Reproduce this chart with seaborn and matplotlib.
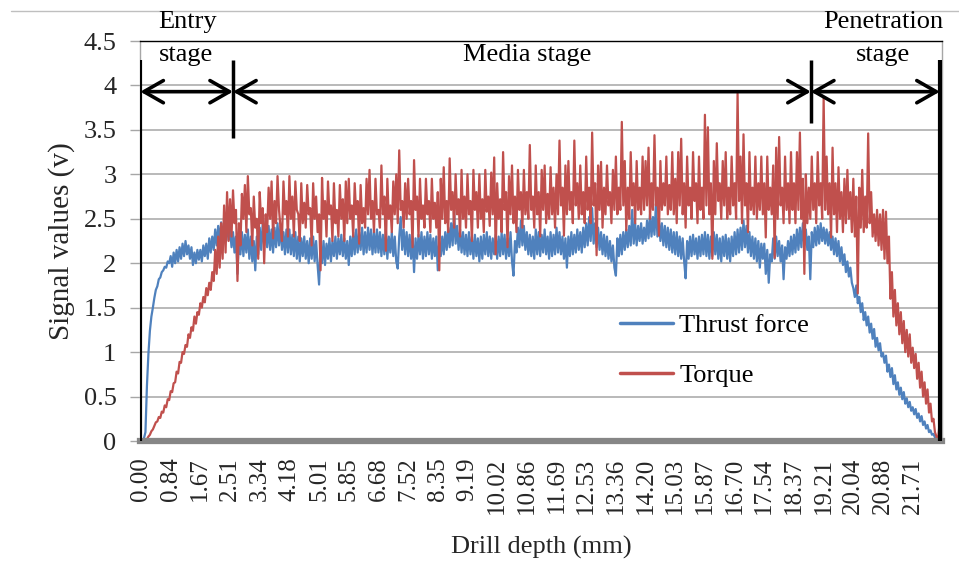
import numpy as np
import pandas as pd
import matplotlib
matplotlib.use("Agg")
import matplotlib.pyplot as plt
from matplotlib.lines import Line2D
import seaborn as sns

# Sampling interval of the drilling record (mm per sample); 20 samples per tick interval
STEP = 0.04176

thrust_force = [
    0.02, 0.01, 0.03, 0.10, 0.62, 0.98, 1.24, 1.40, 1.50, 1.61, 1.70, 1.74, 1.82, 1.84, 1.90, 1.92, 1.96, 1.95, 2.02, 2.00,
    2.08, 1.96, 2.12, 2.00, 2.15, 2.02, 2.18, 2.05, 2.22, 2.08, 2.25, 2.10, 2.20, 2.05, 2.18, 1.98, 2.12, 2.00, 2.15, 2.04,
    2.15, 2.02, 2.20, 2.08, 2.22, 2.05, 2.28, 2.12, 2.30, 2.15, 2.38, 2.20, 2.42, 2.25, 2.46, 2.28, 2.40, 2.24, 2.45, 2.26,
    2.38, 2.18, 2.35, 2.12, 2.30, 1.88, 2.28, 2.10, 2.35, 2.08, 2.32, 2.12, 2.38, 2.05, 2.30, 2.02, 2.25, 1.92, 2.30, 2.10,
    2.40, 2.15, 2.45, 2.20, 2.48, 2.18, 2.42, 2.15, 2.38, 2.12, 2.40, 2.18, 2.45, 2.20, 2.42, 2.15, 2.35, 2.10, 2.38, 2.12,
    2.38, 2.10, 2.32, 2.08, 2.35, 2.05, 2.30, 2.02, 2.28, 2.08, 2.30, 2.05, 2.25, 2.00, 2.28, 2.05, 2.30, 2.02, 2.25, 1.98,
    1.76, 2.20, 2.00, 2.25, 1.98, 2.22, 2.05, 2.28, 2.02, 2.25, 2.08, 2.30, 2.05, 2.28, 2.10, 2.32, 2.08, 2.28, 2.05, 2.25,
    1.98, 2.30, 2.08, 2.35, 2.10, 2.38, 2.12, 2.35, 2.15, 2.40, 2.10, 2.35, 2.12, 2.40, 2.15, 2.38, 2.10, 2.35, 2.12, 2.38,
    2.12, 2.35, 2.08, 2.32, 2.10, 2.38, 2.05, 2.30, 2.12, 2.35, 2.08, 2.30, 2.02, 1.94, 2.30, 2.52, 2.15, 2.38, 2.10, 2.35,
    2.08, 2.32, 2.05, 2.30, 1.90, 2.28, 2.05, 2.32, 2.10, 2.35, 2.05, 2.30, 2.08, 2.35, 2.10, 2.32, 2.05, 2.28, 2.08, 2.30,
    1.92, 2.25, 2.08, 2.30, 2.10, 2.35, 2.15, 2.40, 2.18, 2.45, 2.20, 2.58, 2.22, 2.42, 2.15, 2.38, 2.12, 2.35, 2.10, 2.32,
    2.08, 2.35, 2.10, 2.30, 2.05, 2.32, 2.08, 2.28, 2.02, 2.30, 2.05, 2.32, 2.10, 2.35, 2.08, 2.30, 2.05, 2.28, 2.10, 2.32,
    2.05, 2.30, 2.08, 2.35, 2.10, 2.32, 2.05, 2.28, 2.08, 2.35, 2.02, 1.86, 2.25, 2.12, 2.40, 2.18, 2.48, 2.20, 2.42, 2.15,
    2.35, 2.10, 2.32, 2.08, 2.30, 2.05, 2.38, 2.10, 2.35, 2.08, 2.32, 2.12, 2.38, 2.10, 2.30, 2.05, 2.35, 2.08, 2.32, 2.10,
    2.40, 2.12, 2.35, 2.10, 2.30, 2.05, 2.28, 1.95, 2.30, 2.08, 2.35, 2.10, 2.32, 2.12, 2.38, 2.15, 2.35, 2.12, 2.40, 2.18,
    2.45, 2.20, 2.52, 2.25, 2.62, 2.22, 2.45, 2.18, 2.40, 2.15, 2.35, 2.10, 2.32, 2.08, 2.30, 2.05, 2.25, 2.02, 2.20, 1.95,
    1.86, 2.28, 2.08, 2.32, 2.10, 2.35, 2.15, 2.38, 2.18, 2.42, 2.20, 2.60, 2.22, 2.45, 2.20, 2.42, 2.25, 2.45, 2.22, 2.40,
    2.25, 2.48, 2.28, 2.55, 2.30, 2.52, 2.32, 2.67, 2.30, 2.50, 2.25, 2.45, 2.20, 2.42, 2.18, 2.40, 2.15, 2.38, 2.12, 2.35,
    2.10, 2.35, 2.08, 2.30, 2.05, 2.28, 2.02, 1.83, 2.25, 2.05, 2.30, 2.08, 2.32, 2.10, 2.28, 2.05, 2.30, 2.08, 2.32, 2.10,
    2.35, 2.08, 2.32, 2.05, 2.30, 2.08, 2.35, 2.10, 2.32, 2.05, 2.28, 2.02, 2.30, 2.08, 2.32, 2.05, 2.28, 2.02, 2.30, 2.08,
    2.35, 2.10, 2.38, 2.12, 2.40, 2.15, 2.48, 2.18, 2.42, 2.12, 2.35, 2.08, 2.30, 2.05, 2.28, 2.02, 2.25, 1.95, 2.22, 2.05,
    2.22, 1.88, 2.15, 1.78, 2.10, 2.02, 2.28, 2.05, 2.30, 2.08, 2.25, 2.02, 2.20, 1.82, 2.18, 2.05, 2.25, 2.08, 2.30, 2.10,
    2.32, 2.12, 2.38, 2.15, 2.40, 2.18, 2.45, 2.20, 2.38, 2.15, 2.30, 1.82, 2.35, 2.18, 2.40, 2.20, 2.42, 2.22, 2.45, 2.25,
    2.40, 2.22, 2.38, 2.20, 2.35, 2.15, 2.30, 2.10, 2.28, 2.08, 2.25, 2.02, 2.18, 1.98, 2.10, 1.90, 2.02, 1.85, 1.95, 1.78,
    1.72, 1.62, 1.75, 1.55, 1.62, 1.45, 1.55, 1.36, 1.45, 1.30, 1.40, 1.22, 1.32, 1.15, 1.26, 1.06, 1.16, 1.02, 1.10, 0.95,
    0.99, 0.88, 0.96, 0.78, 0.86, 0.72, 0.82, 0.64, 0.74, 0.58, 0.66, 0.52, 0.60, 0.47, 0.55, 0.42, 0.48, 0.38, 0.44, 0.34,
    0.38, 0.30, 0.36, 0.26, 0.31, 0.22, 0.28, 0.18, 0.22, 0.14, 0.18, 0.10, 0.12, 0.07, 0.08, 0.04, 0.03, 0.02, 0.02, 0.02,
]

torque = [
    0.00, 0.00, 0.01, 0.01, 0.02, 0.05, 0.07, 0.11, 0.13, 0.17, 0.21, 0.22, 0.27, 0.26, 0.33, 0.32, 0.40, 0.38, 0.47, 0.46,
    0.56, 0.55, 0.65, 0.66, 0.78, 0.76, 0.89, 0.88, 1.00, 0.98, 1.08, 1.06, 1.20, 1.16, 1.28, 1.24, 1.40, 1.32, 1.45, 1.42,
    1.55, 1.50, 1.62, 1.56, 1.72, 1.64, 1.78, 1.70, 1.90, 1.80, 2.15, 1.88, 2.30, 1.95, 2.45, 2.05, 2.65, 2.12, 2.80, 2.25,
    2.72, 2.30, 2.82, 2.45, 2.60, 1.80, 2.45, 2.20, 2.78, 2.50, 2.88, 2.35, 2.98, 2.55, 2.62, 2.20, 2.75, 2.40, 2.50, 2.05,
    2.80, 2.45, 2.62, 2.00, 2.55, 2.35, 2.85, 2.50, 2.92, 2.28, 2.70, 2.45, 2.98, 2.60, 2.40, 2.25, 2.92, 2.55, 2.70, 2.30,
    2.98, 2.50, 2.75, 2.30, 2.92, 2.60, 2.55, 2.25, 2.90, 2.45, 2.68, 2.40, 2.88, 2.55, 2.62, 2.20, 2.90, 2.50, 2.75, 2.35,
    2.55, 1.92, 2.96, 2.50, 2.70, 2.30, 2.92, 2.55, 2.65, 2.25, 2.90, 2.45, 2.60, 2.30, 2.88, 2.50, 2.72, 2.25, 2.92, 2.45,
    2.95, 2.50, 2.65, 2.30, 2.90, 2.55, 2.70, 2.22, 2.88, 2.45, 2.62, 2.40, 2.95, 2.55, 3.05, 2.50, 2.70, 2.35, 2.95, 2.55,
    2.60, 2.40, 3.10, 2.55, 2.75, 2.14, 2.95, 2.50, 2.65, 2.35, 2.92, 2.55, 3.00, 2.45, 3.27, 2.60, 2.70, 2.40, 2.90, 2.50,
    2.95, 2.55, 2.70, 2.18, 3.16, 2.60, 2.75, 2.30, 2.95, 2.50, 2.65, 2.40, 2.95, 2.55, 2.70, 2.35, 2.95, 2.50, 2.68, 2.40,
    2.80, 1.92, 2.95, 2.50, 3.08, 2.45, 2.70, 2.35, 3.18, 2.60, 2.80, 2.40, 3.00, 2.55, 2.72, 2.30, 3.05, 2.50, 2.75, 2.40,
    3.00, 2.55, 2.70, 2.25, 3.05, 2.60, 2.80, 2.40, 3.00, 2.50, 2.72, 2.35, 3.05, 2.58, 2.75, 2.42, 3.02, 2.55, 3.19, 2.10,
    2.90, 2.50, 2.72, 2.35, 3.25, 2.60, 2.80, 2.18, 2.98, 2.55, 3.10, 2.45, 2.75, 2.35, 3.05, 2.60, 2.80, 2.40, 3.05, 2.55,
    2.80, 2.50, 3.33, 2.60, 2.75, 2.40, 3.10, 2.55, 2.80, 2.30, 3.05, 2.60, 3.10, 2.45, 2.78, 2.50, 3.08, 2.55, 2.85, 2.40,
    3.00, 2.55, 3.38, 2.65, 2.85, 2.31, 3.10, 2.55, 3.15, 2.60, 2.80, 2.45, 3.38, 2.65, 2.90, 2.50, 3.10, 2.55, 2.80, 2.45,
    3.20, 2.60, 2.85, 2.45, 3.47, 2.65, 2.90, 2.09, 3.10, 2.60, 3.14, 2.40, 2.85, 2.55, 3.10, 2.65, 2.80, 2.45, 3.05, 2.60,
    3.20, 2.55, 2.85, 2.60, 3.59, 2.65, 3.15, 2.37, 2.85, 2.50, 3.25, 2.65, 2.90, 2.45, 3.15, 2.60, 2.85, 2.55, 3.20, 2.60,
    3.15, 2.65, 3.30, 2.50, 2.90, 2.60, 3.44, 2.65, 2.85, 2.31, 3.15, 2.60, 2.90, 2.65, 3.20, 2.55, 2.88, 2.60, 3.25, 2.55,
    2.95, 2.45, 3.25, 2.65, 3.40, 2.55, 2.90, 2.40, 3.20, 2.65, 2.85, 2.50, 3.25, 2.70, 2.90, 2.45, 3.20, 2.60, 2.85, 2.50,
    3.67, 2.65, 3.53, 2.55, 2.90, 2.05, 3.15, 2.55, 3.35, 2.70, 2.90, 2.50, 3.15, 2.65, 3.25, 2.50, 2.85, 2.55, 3.20, 2.65,
    2.90, 2.50, 3.91, 2.70, 3.20, 2.45, 3.45, 2.65, 2.90, 2.35, 3.25, 2.60, 2.85, 2.55, 3.20, 2.50, 2.90, 2.60, 3.20, 2.55,
    2.90, 2.29, 3.20, 2.60, 2.85, 2.55, 3.10, 2.06, 3.30, 2.50, 3.42, 2.65, 2.85, 2.45, 3.20, 2.60, 2.90, 2.45, 3.25, 2.60,
    2.90, 2.45, 3.25, 2.60, 3.47, 2.50, 2.95, 1.88, 3.00, 2.45, 2.85, 2.50, 3.20, 2.60, 2.90, 2.45, 3.25, 2.65, 2.90, 2.50,
    3.86, 2.60, 3.20, 2.55, 2.90, 2.29, 3.30, 2.55, 2.90, 2.35, 3.08, 2.50, 2.80, 2.35, 2.95, 2.45, 3.05, 2.50, 2.80, 2.35,
    2.95, 2.30, 2.75, 1.66, 2.85, 2.40, 3.05, 2.35, 2.75, 2.40, 3.46, 2.45, 2.80, 2.30, 2.55, 2.25, 2.60, 2.20, 2.55, 2.15,
    2.60, 2.05, 2.58, 2.00, 2.30, 1.60, 1.90, 1.40, 1.70, 1.30, 1.55, 1.20, 1.45, 1.10, 1.35, 1.00, 1.25, 0.95, 1.20, 0.88,
    1.05, 0.82, 0.98, 0.70, 0.88, 0.60, 0.78, 0.50, 0.66, 0.42, 0.58, 0.32, 0.42, 0.22, 0.25, 0.10, 0.05, 0.00, 0.18, 0.20,
]

depth_tick_labels = [
    "0.00", "0.84", "1.67", "2.51", "3.34", "4.18", "5.01", "5.85", "6.68",
    "7.52", "8.35", "9.19", "10.02", "10.86", "11.69", "12.53", "13.36",
    "14.20", "15.03", "15.87", "16.70", "17.54", "18.37", "19.21", "20.04",
    "20.88", "21.71",
]
y_ticks = [0, 0.5, 1, 1.5, 2, 2.5, 3, 3.5, 4, 4.5]
y_tick_labels = ["0", "0.5", "1", "1.5", "2", "2.5", "3", "3.5", "4", "4.5"]

series_names = ["Thrust force", "Torque"]
series_colors = ["#4F81BD", "#C0504D"]

# Stage boundaries along the drill depth (mm)
stage_bounds = [-0.02, 2.59, 18.85, 22.48]

depth = np.arange(len(thrust_force)) * STEP
df = pd.concat([
    pd.DataFrame({"depth": depth, "value": thrust_force, "signal": series_names[0]}),
    pd.DataFrame({"depth": depth, "value": torque, "signal": series_names[1]}),
], ignore_index=True)

sns.set_theme(style="white")
plt.rcParams["font.family"] = ["Liberation Serif", "DejaVu Serif"]
plt.rcParams["text.color"] = "black"

W, H = 959, 581
fig = plt.figure(figsize=(W / 100, H / 100), dpi=100)
fig.patch.set_facecolor("white")
ax = fig.add_axes([140 / W, 1 - 441 / H, (942 - 140) / W, (441 - 41) / H])

sns.lineplot(data=df, x="depth", y="value", hue="signal", hue_order=series_names,
             palette=series_colors, estimator=None, sort=False, linewidth=1.6, ax=ax)

ax.set_xlim(-0.028, 22.54)
ax.set_ylim(0, 4.5)

# Grid and frame
for yv in y_ticks[1:-1]:
    ax.axhline(yv, color="#A6A6A6", lw=1.1, zorder=0)
ax.spines["top"].set_color("black")
ax.spines["top"].set_linewidth(1.0)
ax.spines["right"].set_color("#A6A6A6")
ax.spines["right"].set_linewidth(1.0)
ax.spines["left"].set_color("#A6A6A6")
ax.spines["left"].set_linewidth(1.0)
ax.spines["bottom"].set_color("#868686")
ax.spines["bottom"].set_linewidth(4.5)

ax.set_yticks(y_ticks)
ax.set_yticklabels(y_tick_labels, fontsize=19)
ax.set_xticks([float(t) for t in depth_tick_labels])
ax.set_xticklabels(depth_tick_labels, rotation=90, fontsize=18)
ax.tick_params(axis="y", left=True, length=7, width=1, color="#A6A6A6", pad=10)
ax.tick_params(axis="x", bottom=False, length=0, pad=12)

ax.set_xlabel("Drill depth (mm)", fontsize=19, labelpad=16)
ax.set_ylabel("Signal values (v)", fontsize=21, labelpad=6)

# Stage markers and double arrows
y_top, y_arrow = 4.29, 3.93
for xb in (stage_bounds[0], stage_bounds[3]):
    ax.plot([xb, xb], [0, y_top], color="black", lw=3.0, solid_capstyle="butt", zorder=5)
ax.plot([stage_bounds[1]] * 2, [3.41, y_top], color="black", lw=2.5, solid_capstyle="butt", zorder=5)
ax.plot([stage_bounds[2]] * 2, [3.58, y_top], color="black", lw=2.5, solid_capstyle="butt", zorder=5)
for a, b in zip(stage_bounds[:-1], stage_bounds[1:]):
    ax.annotate("", xy=(b, y_arrow), xytext=(a, y_arrow),
                arrowprops=dict(arrowstyle="<->,head_length=0.7,head_width=0.4",
                                lw=2.6, color="black", shrinkA=0, shrinkB=0,
                                mutation_scale=20),
                zorder=6)

fig.text(188 / W, 1 - 22 / H, "Entry", fontsize=19, ha="center", va="center")
fig.text(186 / W, 1 - 55 / H, "stage", fontsize=19, ha="center", va="center")
fig.text(527 / W, 1 - 55 / H, "Media stage", fontsize=19, ha="center", va="center")
fig.text(883 / W, 1 - 22 / H, "Penetration", fontsize=19, ha="center", va="center")
fig.text(883 / W, 1 - 55 / H, "stage", fontsize=19, ha="center", va="center")

# Legend
handles, labels = ax.get_legend_handles_labels()
if ax.get_legend() is not None:
    ax.get_legend().remove()
ax.legend(handles, labels, loc="upper left", bbox_to_anchor=(620 / W, 1 - 314 / H),
          bbox_transform=fig.transFigure, frameon=False, fontsize=19,
          handlelength=2.0, handletextpad=0.25, labelspacing=1.0,
          borderpad=0, borderaxespad=0)
for lh in ax.get_legend().get_lines():
    lh.set_linewidth(2.5)

# Chart border
fig.add_artist(Line2D([11 / W, 1], [1 - 11 / H] * 2, color="#BFBFBF", lw=1.0))

fig.savefig("out.png", dpi=100, facecolor="white")
